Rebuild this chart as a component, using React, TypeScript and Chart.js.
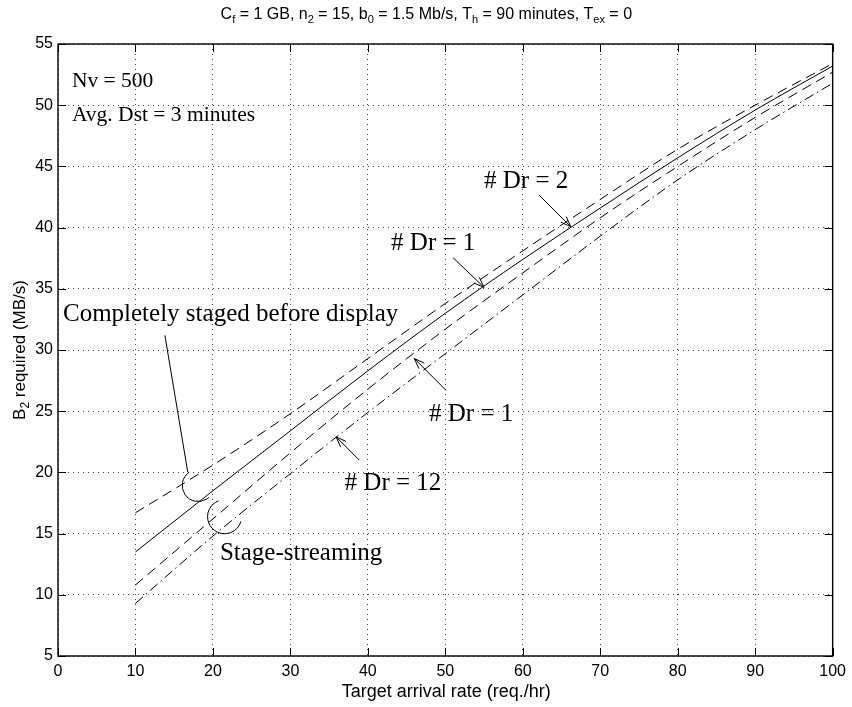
import React, { useEffect, useRef } from "react";
import { Chart, registerables } from "chart.js";

Chart.register(...registerables);

// ---- data ----
const arrivalRates = [10, 20, 30, 40, 50, 60, 70, 80, 90, 100];
const stagedDr2 = [16.7, 20.6, 24.8, 29.3, 33.8, 38.1, 42.3, 46.4, 50.0, 53.4];
const stagedDr1 = [13.5, 18.5, 23.4, 28.3, 33.0, 37.4, 41.6, 45.7, 49.6, 53.2];
const streamDr1 = [10.8, 16.2, 21.6, 26.8, 31.7, 36.3, 40.8, 45.0, 49.0, 52.7];
const streamDr12 = [9.3, 14.8, 19.9, 24.9, 29.7, 34.5, 39.3, 43.9, 48.0, 51.8];

const xTickValues = [0, 10, 20, 30, 40, 50, 60, 70, 80, 90, 100];
const yTickValues = [5, 10, 15, 20, 25, 30, 35, 40, 45, 50, 55];

// annotations in data units
const noteTexts = [
  { text: "Nv = 500", x: 1.8, y: 51.5, size: 21.5 },
  { text: "Avg. Dst = 3 minutes", x: 1.8, y: 48.7, size: 21.5 },
  { text: "Completely staged before display", x: 0.64, y: 32.37, size: 25 },
  { text: "Stage-streaming", x: 20.9, y: 12.84, size: 25 },
  { text: "# Dr = 12", x: 37.0, y: 18.56, size: 25 },
  { text: "# Dr = 1", x: 47.9, y: 24.2, size: 25 },
  { text: "# Dr = 1", x: 43.0, y: 38.17, size: 25 },
  { text: "# Dr = 2", x: 55.0, y: 43.2, size: 25 },
];
const noteArrows = [
  { x1: 38.9, y1: 21.0, x2: 35.9, y2: 22.9 },
  { x1: 50.1, y1: 26.7, x2: 46.0, y2: 29.3 },
  { x1: 51.0, y1: 37.54, x2: 55.0, y2: 35.12 },
  { x1: 62.1, y1: 42.66, x2: 66.2, y2: 40.07 },
];
const leaderLines = [{ x1: 13.8, y1: 31.2, x2: 16.75, y2: 20.03 }];
const noteArcs = [
  { x: 18.1, y: 18.93, r: 16, a0: 236, a1: 47 },
  { x: 21.5, y: 16.38, r: 17, a0: 249, a1: 16 },
];

const titleParts: [string, boolean][] = [
  ["C", false], ["f", true], [" = 1 GB, n", false], ["2", true],
  [" = 15, b", false], ["0", true], [" = 1.5 Mb/s, T", false], ["h", true],
  [" = 90 minutes, T", false], ["ex", true], [" = 0", false],
];
const yTitleParts: [string, boolean][] = [["B", false], ["2", true], [" required (MB/s)", false]];
const xTitle = "Target arrival rate (req./hr)";

const SANS = '"Liberation Sans", Arial, sans-serif';
const SERIF = '"Liberation Serif", "Times New Roman", serif';

function drawParts(ctx: CanvasRenderingContext2D, parts: [string, boolean][], cx: number, by: number, size: number, subSize: number, subDy: number) {
  let total = 0;
  for (const [t, sub] of parts) {
    ctx.font = `${sub ? subSize : size}px ${SANS}`;
    total += ctx.measureText(t).width;
  }
  let x = cx - total / 2;
  ctx.textAlign = "left";
  ctx.textBaseline = "alphabetic";
  for (const [t, sub] of parts) {
    ctx.font = `${sub ? subSize : size}px ${SANS}`;
    ctx.fillText(t, x, sub ? by + subDy : by);
    x += ctx.measureText(t).width;
  }
}

const decor = {
  id: "decor",
  afterDraw(chart: any) {
    const { ctx, chartArea: a, scales } = chart;
    const sx = scales.x;
    const sy = scales.y;
    const px = (v: number) => sx.getPixelForValue(v);
    const py = (v: number) => sy.getPixelForValue(v);
    ctx.save();
    ctx.strokeStyle = "#000";
    ctx.fillStyle = "#000";
    ctx.lineWidth = 1;
    // inward ticks
    ctx.beginPath();
    for (const v of xTickValues) {
      const x = Math.round(px(v)) + 0.5;
      ctx.moveTo(x, a.bottom); ctx.lineTo(x, a.bottom - 8);
      ctx.moveTo(x, a.top); ctx.lineTo(x, a.top + 8);
    }
    for (const v of yTickValues) {
      const y = Math.round(py(v)) + 0.5;
      ctx.moveTo(a.left, y); ctx.lineTo(a.left + 8, y);
      ctx.moveTo(a.right, y); ctx.lineTo(a.right - 8, y);
    }
    ctx.stroke();
    // box
    ctx.lineWidth = 1.4;
    ctx.strokeRect(a.left, a.top, a.right - a.left, a.bottom - a.top);

    // annotations
    ctx.lineWidth = 1;
    ctx.textAlign = "left";
    ctx.textBaseline = "alphabetic";
    for (const n of noteTexts) {
      ctx.font = `${n.size}px ${SERIF}`;
      ctx.fillText(n.text, px(n.x), py(n.y));
    }
    for (const l of leaderLines) {
      ctx.beginPath();
      ctx.moveTo(px(l.x1), py(l.y1));
      ctx.lineTo(px(l.x2), py(l.y2));
      ctx.stroke();
    }
    for (const ar of noteArrows) {
      const x1 = px(ar.x1), y1 = py(ar.y1), x2 = px(ar.x2), y2 = py(ar.y2);
      const ang = Math.atan2(y2 - y1, x2 - x1);
      ctx.beginPath();
      ctx.moveTo(x1, y1); ctx.lineTo(x2, y2);
      const L = 11, h = 0.36;
      ctx.moveTo(x2 - L * Math.cos(ang - h), y2 - L * Math.sin(ang - h));
      ctx.lineTo(x2, y2);
      ctx.lineTo(x2 - L * Math.cos(ang + h), y2 - L * Math.sin(ang + h));
      ctx.stroke();
    }
    for (const c of noteArcs) {
      ctx.beginPath();
      ctx.arc(px(c.x), py(c.y), c.r, (c.a0 * Math.PI) / 180, (c.a1 * Math.PI) / 180, true);
      ctx.stroke();
    }

    // titles
    const cx = (a.left + a.right) / 2;
    drawParts(ctx, titleParts, cx - 19, 19, 16, 11, 4);
    ctx.font = `18px ${SANS}`;
    ctx.textAlign = "center";
    ctx.fillText(xTitle, cx + 1, 697);
    ctx.save();
    ctx.translate(25, (a.top + a.bottom) / 2);
    ctx.rotate(-Math.PI / 2);
    drawParts(ctx, yTitleParts, 0, 0, 17, 12, 4);
    ctx.restore();
    ctx.restore();
  },
};

const mk = (ys: number[]) => arrivalRates.map((x, i) => ({ x, y: ys[i] }));

export default function App() {
  const ref = useRef<HTMLCanvasElement | null>(null);
  useEffect(() => {
    if (!ref.current) return;
    const base = {
      borderColor: "#000",
      borderWidth: 1,
      pointRadius: 0,
      fill: false,
      cubicInterpolationMode: "monotone" as const,
    };
    const chart = new Chart(ref.current, {
      type: "line",
      data: {
        datasets: [
          { ...base, label: "# Dr = 2 (staged)", data: mk(stagedDr2), borderDash: [10, 6] },
          { ...base, label: "# Dr = 1 (staged)", data: mk(stagedDr1) },
          { ...base, label: "# Dr = 1 (stage-streaming)", data: mk(streamDr1), borderDash: [10, 6] },
          { ...base, label: "# Dr = 12 (stage-streaming)", data: mk(streamDr12), borderDash: [10, 4, 1.5, 4] },
        ],
      },
      options: {
        responsive: false,
        animation: false,
        devicePixelRatio: 1,
        layout: { padding: { left: 0, top: 44, right: 18, bottom: 0 } },
        plugins: { legend: { display: false }, tooltip: { enabled: false }, title: { display: false } },
        scales: {
          x: {
            type: "linear",
            min: 0,
            max: 100,
            ticks: { stepSize: 10, color: "#000", font: { family: SANS, size: 16 }, padding: 6, maxRotation: 0 },
            grid: { color: "#444", lineWidth: 1, drawTicks: false },
            border: { display: false, dash: [1, 4] },
            afterFit: (s: any) => { s.height = 51; },
          },
          y: {
            type: "linear",
            min: 5,
            max: 55,
            ticks: { stepSize: 5, color: "#000", font: { family: SANS, size: 16 }, padding: 5 },
            grid: { color: "#444", lineWidth: 1, drawTicks: false },
            border: { display: false, dash: [1, 4] },
            afterFit: (s: any) => { s.width = 58; },
          },
        },
      },
      plugins: [decor],
    });
    return () => chart.destroy();
  }, []);
  return (
    <div style={{ position: "absolute", left: 0, top: 0, width: 852, height: 707, background: "#fff" }}>
      <canvas ref={ref} width={852} height={707} />
    </div>
  );
}
